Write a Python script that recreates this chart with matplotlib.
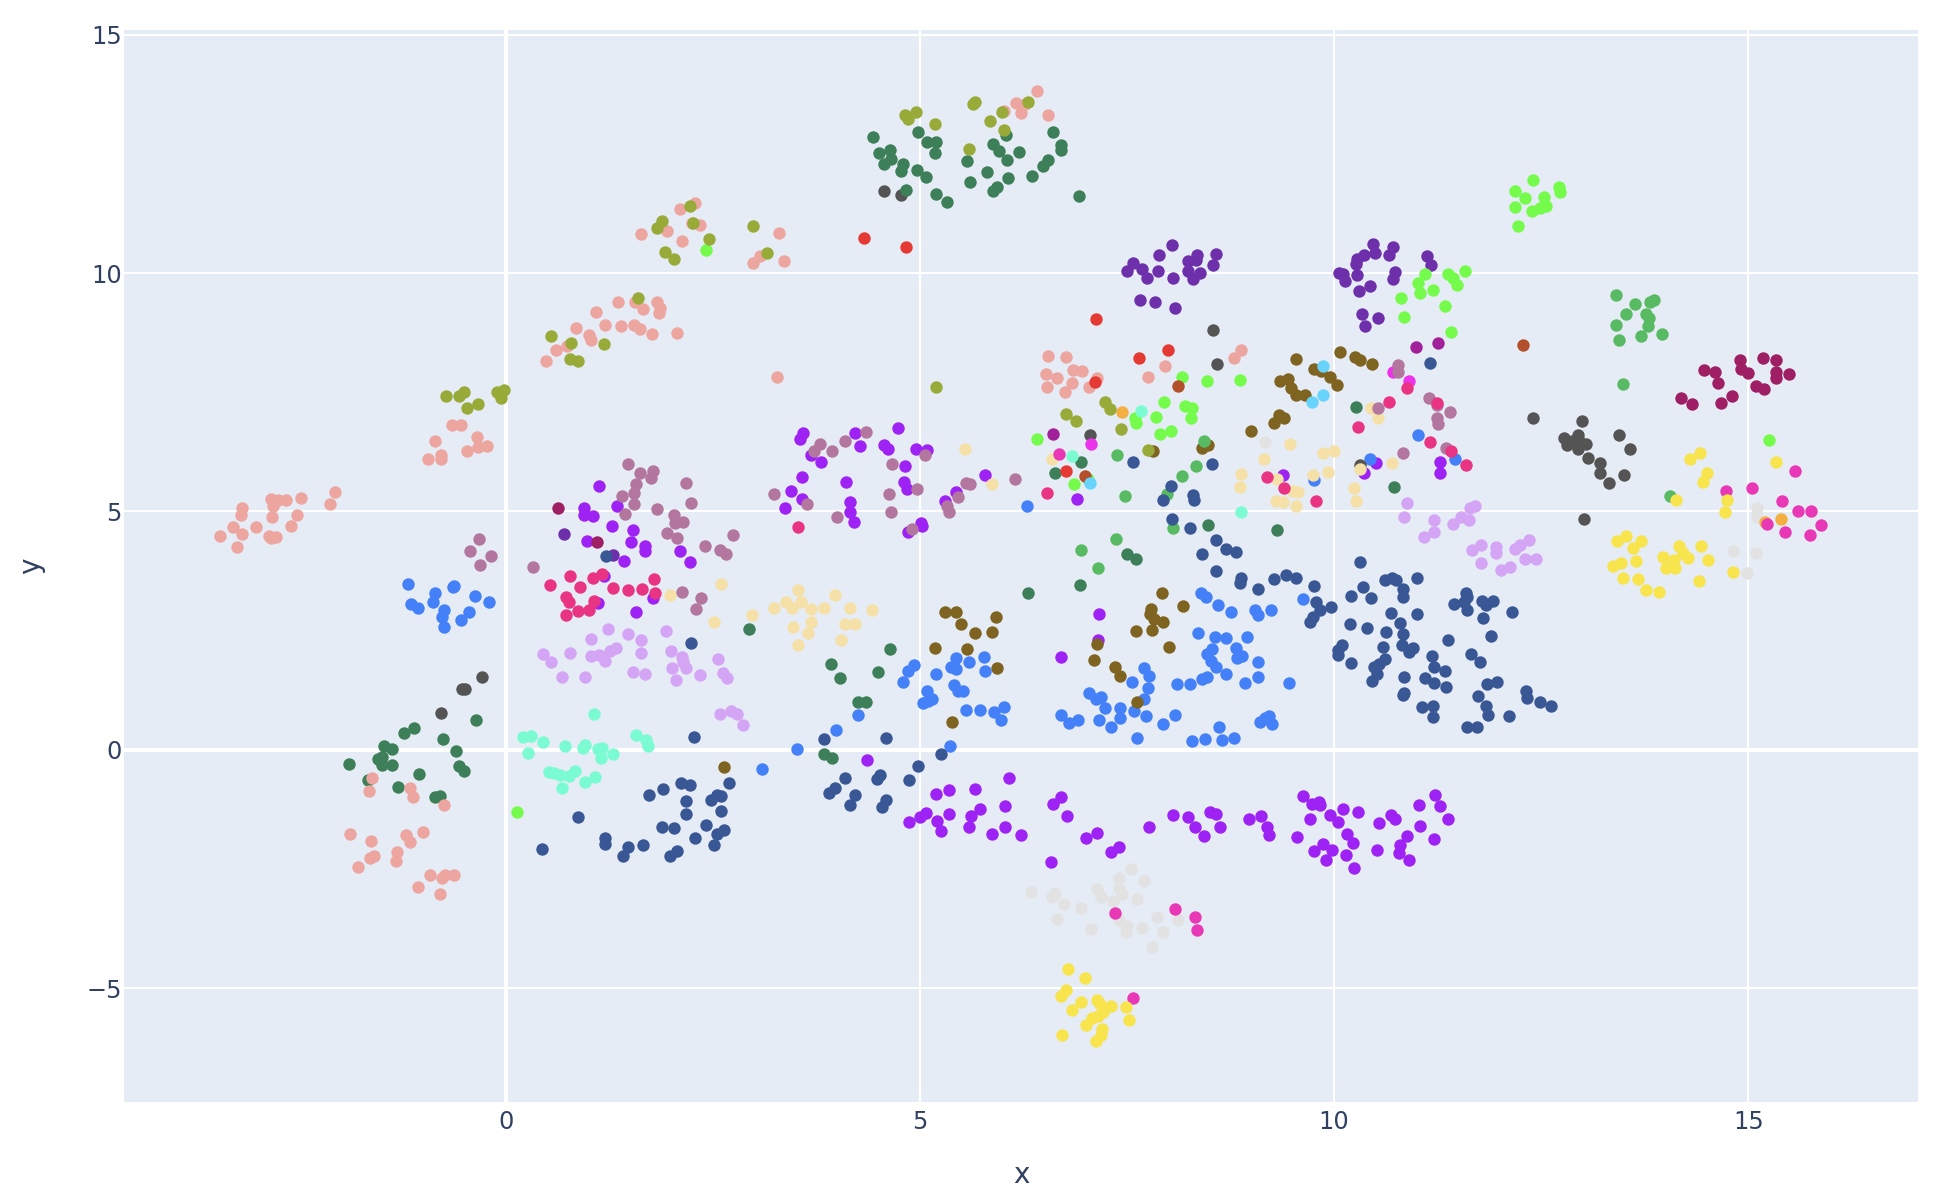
import matplotlib
matplotlib.use("Agg")
import matplotlib.pyplot as plt
import numpy as np

# puntos (x, y), un grupo por color
purple = [(1.13,5.53),(1.34,5.11),(0.94,5.07),(0.94,4.93),(1.05,4.90),(1.28,4.70),(1.54,4.60),(0.98,4.38),(1.51,4.36),(1.68,4.27),(1.68,4.18),(2.10,4.18),(1.43,3.97),(2.22,3.93),(1.18,3.64),(1.11,3.07),(1.78,3.18),(1.57,2.89),
    (3.59,6.65),(3.55,6.51),(4.21,6.65),(4.74,6.76),(4.28,6.37),(4.56,6.40),(4.61,6.32),(4.95,6.32),(5.08,6.29),(3.68,6.18),(3.80,6.04),(4.82,5.95),(3.57,5.72),(4.11,5.62),(4.81,5.62),(4.84,5.48),(3.44,5.42),(3.58,5.27),(3.37,5.07),(4.16,5.19),(4.16,4.98),(4.20,4.78),(5.01,4.76),(5.02,4.70),(4.85,4.56),(5.79,5.77),(5.43,5.41),(5.30,5.22),(6.90,5.27),(9.38,5.76),(7.16,2.84),(7.15,2.30),(6.70,1.95),
    (10.51,6.02),(10.36,5.81),(11.28,6.03),(11.28,5.81),
    (4.36,-0.22),(6.07,-0.59),(5.35,-0.84),(5.66,-0.82),(5.19,-0.93),(6.70,-0.99),(6.61,-1.14),(6.77,-1.40),(6.03,-1.19),(5.72,-1.24),(5.62,-1.38),(5.35,-1.35),(5.07,-1.33),(5.00,-1.41),(4.87,-1.52),(5.21,-1.49),(5.25,-1.70),(5.59,-1.63),(6.03,-1.63),(5.87,-1.76),(6.22,-1.78),(7.14,-1.74),(7.01,-1.85),(7.40,-2.05),(7.31,-2.14),(6.58,-2.36),(7.76,-1.62),(8.06,-1.36),(8.24,-1.41),(8.32,-1.62),(8.43,-1.80),(8.50,-1.31),(8.58,-1.34),(8.62,-1.63),(8.97,-1.45),(9.12,-1.39),(9.19,-1.63),(9.21,-1.79),(9.62,-0.97),(9.73,-1.13),(9.82,-1.09),(9.83,-1.15),(9.71,-1.45),(9.95,-1.37),(10.05,-1.52),(10.11,-1.24),(10.29,-1.30),(10.15,-1.77),(10.23,-1.95),(9.55,-1.84),(9.87,-1.97),(9.98,-2.10),(9.76,-2.13),(10.14,-2.20),(9.90,-2.32),(10.24,-2.48),
    (10.54,-1.54),(10.69,-1.37),(10.73,-1.45),(11.03,-1.15),(11.22,-0.94),(11.28,-1.17),(11.38,-1.45),(11.04,-1.60),(10.88,-1.80),(10.80,-1.99),(10.78,-2.17),(10.90,-2.31),(10.52,-2.11),(11.21,-1.88)]
blue = [(-1.18,3.48),(-0.64,3.42),(-0.62,3.44),(-0.86,3.29),(-0.37,3.23),(-1.15,3.06),(-1.06,2.97),(-0.88,3.10),(-0.75,2.94),(-0.20,3.09),(-0.45,2.88),(-0.77,2.78),(-0.54,2.73),(-0.75,2.57),
    (3.09,-0.41),(3.51,0.01),(3.99,0.41),(4.25,0.72),(4.79,1.43),(4.86,1.66),(4.93,1.78),(5.19,1.59),(5.44,1.92),(5.38,1.73),(5.44,1.69),(5.59,1.85),(5.77,1.95),(5.78,1.66),(5.08,1.24),(5.04,0.98),(5.10,1.03),(5.15,1.07),(5.41,1.35),(5.46,1.24),(5.52,1.24),(5.56,0.84),(5.73,0.83),(5.89,0.79),(6.01,0.89),(5.98,0.62),(5.36,0.08),
    (6.70,0.72),(6.80,0.57),(6.91,0.63),(7.04,1.20),(7.12,1.06),(7.19,1.11),(7.24,0.87),(7.42,0.87),(7.16,0.62),(7.41,0.66),(7.31,0.48),(7.58,0.81),(7.73,0.71),(7.62,0.24),(7.56,1.43),(7.75,1.30),(7.70,1.06),(7.70,1.71),(7.76,1.55),(8.10,1.38),(8.26,1.38),(8.41,1.48),(8.47,1.52),(8.70,1.59),(8.93,1.41),(9.08,1.53),(8.08,0.73),(7.94,0.55),(8.61,0.48),(8.28,0.18),(8.44,0.22),(8.65,0.21),(8.79,0.25),(9.10,0.58),(9.16,0.66),(9.21,0.71),(9.25,0.54),(9.45,1.41),
    (8.46,2.01),(8.51,1.87),(8.58,1.74),(8.83,1.93),(8.89,1.97),(9.08,1.85),
    (8.39,3.29),(8.45,3.21),(8.60,3.03),(8.76,2.90),(9.04,2.93),(9.08,2.82),(9.24,2.94),(9.62,3.16),(8.36,2.44),(8.56,2.36),(8.70,2.34),(8.95,2.37),(8.81,2.14),(8.53,2.11),
    (6.29,5.11),(9.76,5.66),(10.43,6.10),(11.01,6.60),(11.46,6.10)]
brown = [(9.54,8.19),(10.07,8.35),(10.25,8.24),(10.31,8.17),(10.46,8.09),(9.76,7.98),(9.84,7.95),(9.95,7.81),(10.03,7.65),(9.35,7.73),(9.44,7.77),(9.48,7.58),(9.54,7.44),(9.65,7.45),(9.33,7.02),(9.40,6.95),(9.28,6.86),(9.00,6.68),(7.81,6.27),(8.41,6.34),(8.48,6.39),(7.92,3.29),(7.79,2.96),(7.78,2.84),(7.83,2.74),(7.94,2.69),(8.18,3.01),(7.61,2.49),(7.80,2.51),(8.01,2.16),(7.14,2.21),(7.10,1.88),(7.36,1.74),(7.42,1.55),(7.62,1.01),(5.30,2.90),(5.44,2.88),(5.49,2.63),(5.92,2.79),(5.67,2.45),(5.87,2.46),(5.18,2.14),(5.57,2.11),(5.93,1.71),(5.39,0.58),(2.64,-0.37)]
dark_purple = [(8.04,10.58),(7.89,10.37),(7.57,10.22),(7.68,10.09),(7.50,10.05),(7.88,10.04),(7.74,9.89),(8.06,9.89),(8.24,10.26),(8.34,10.37),(8.33,10.27),(8.57,10.40),(8.54,10.16),(8.24,10.05),(8.38,10.01),(8.30,9.87),(7.66,9.44),(7.84,9.40),(8.08,9.26),
    (10.47,10.60),(10.71,10.54),(10.66,10.39),(10.50,10.43),(10.36,10.39),(10.28,10.29),(10.26,10.20),(10.06,10.01),(10.11,9.99),(10.28,9.97),(10.13,9.83),(10.73,10.02),(10.71,9.87),(10.43,9.72),(10.30,9.62),(10.34,9.15),(10.53,9.06),(10.37,8.89),(11.12,10.36),(11.17,10.16),(0.70,4.53),(1.30,4.09)]
gray = [(-0.29,1.52),(-0.53,1.28),(-0.49,1.27),(-0.78,0.78),(4.56,11.72),(4.77,11.63),(7.05,6.60),(8.54,8.80),(8.59,8.09),(10.31,5.97),(12.40,6.95),(12.99,6.90),(13.44,6.60),(13.57,6.32),(12.78,6.55),(12.94,6.61),(12.81,6.40),(12.87,6.47),(12.94,6.31),(13.04,6.41),(12.97,6.45),(13.06,6.12),(13.21,6.02),(13.21,5.80),(13.50,5.77),(13.32,5.59),(13.02,4.85)]
dark_green = [(4.43,12.85),(4.98,12.95),(5.09,12.76),(5.19,12.74),(5.18,12.53),(4.64,12.58),(4.51,12.53),(4.65,12.39),(4.56,12.29),(4.79,12.28),(4.77,12.14),(4.96,12.17),(5.07,12.02),(4.83,11.75),(5.19,11.66),(5.33,11.50),(5.57,12.35),(5.81,12.12),(5.60,11.91),(5.88,12.70),(5.95,12.57),(6.04,12.89),(6.05,12.37),(6.19,12.54),(6.06,12.00),(6.35,12.03),(6.48,12.25),(6.55,12.37),(6.61,12.95),(6.70,12.68),(6.70,12.59),(5.93,11.81),(5.88,11.72),(6.92,11.62),
    (-0.36,0.62),(-1.11,0.45),(-1.23,0.35),(-0.76,0.22),(-1.47,0.07),(-1.38,0.02),(-0.60,-0.02),(-1.50,-0.16),(-1.54,-0.19),(-1.49,-0.33),(-1.37,-0.31),(-1.89,-0.30),(-0.57,-0.34),(-0.51,-0.44),(-1.05,-0.50),(-1.66,-0.64),(-1.30,-0.79),(-0.86,-1.00),(-0.79,-0.98),
    (2.94,2.53),(3.92,1.80),(4.03,1.51),(4.49,1.63),(4.64,2.12),(4.25,1.00),(4.35,1.01),(3.84,-0.09),(3.94,-0.17),(6.63,5.80),(6.94,6.04),(6.30,3.28),(6.93,3.46),(7.50,4.10),(7.61,4.01),(8.48,4.71),(9.31,4.61),(10.26,7.19),(10.72,5.51)]
lime = [(0.14,-1.31),(2.42,10.49),(12.40,11.95),(12.18,11.72),(12.31,11.57),(12.53,11.59),(12.71,11.81),(12.73,11.70),(12.19,11.38),(12.39,11.30),(12.49,11.36),(12.56,11.40),(12.22,10.98),
    (11.10,9.99),(11.38,9.99),(11.43,9.90),(11.48,9.75),(11.58,10.05),(11.01,9.80),(11.04,9.59),(11.19,9.65),(10.81,9.47),(11.34,9.30),(10.84,9.08),(11.41,8.77),(15.25,6.50),
    (8.16,7.82),(8.47,7.73),(8.86,7.76),(7.95,7.30),(8.20,7.21),(8.28,7.18),(8.27,6.96),(7.85,6.99),(7.60,6.97),(7.61,6.85),(7.90,6.62),(8.03,6.68),(6.41,6.51),(7.03,5.69),(6.86,5.57)]
cream = [(3.53,3.35),(3.38,3.09),(3.56,3.10),(3.24,2.97),(3.46,2.97),(3.69,2.95),(3.84,2.97),(3.97,3.24),(4.15,2.97),(4.42,2.93),(2.97,2.82),(3.68,2.67),(3.47,2.58),(3.65,2.45),(4.09,2.64),(4.22,2.63),(4.05,2.30),(3.53,2.20),(1.98,3.25),(2.60,3.47),(2.51,2.68),
    (5.54,6.30),(5.87,5.57),(6.60,6.10),(8.88,5.79),(8.86,5.52),(9.15,6.10),(9.47,6.41),(9.30,5.22),(9.38,5.19),(9.54,5.12),(9.31,5.67),(9.51,5.43),(9.57,5.41),(9.87,6.22),(10.00,6.27),(9.93,5.83),(9.74,5.77),(10.24,5.50),(10.26,5.21),(10.45,7.17),(10.53,6.97),(10.70,6.01),(10.31,5.88)]
light_gray = [(6.34,-2.98),(6.59,-3.08),(6.63,-3.00),(6.74,-3.24),(6.66,-3.55),(6.94,-3.33),(7.14,-2.93),(7.18,-3.08),(7.40,-2.69),(7.40,-2.89),(7.44,-3.03),(7.33,-3.18),(7.55,-2.51),(7.71,-2.75),(7.62,-3.13),(7.40,-3.57),(7.07,-3.76),(7.50,-3.69),(7.49,-3.83),(7.68,-3.74),(7.86,-3.50),(8.12,-3.57),(7.94,-3.83),(7.80,-4.13),(9.16,6.46),(15.11,5.08),(15.11,4.89),(14.82,4.17),(15.09,4.13),(14.99,3.70)]
green = [(7.38,6.19),(8.33,5.96),(8.16,5.75),(7.47,5.33),(7.98,5.36),(8.43,6.47),(8.06,4.66),(7.37,4.43),(6.95,4.20),(7.15,3.81),(13.40,9.55),(13.63,9.36),(13.82,9.39),(13.86,9.44),(13.53,9.15),(13.76,9.15),(13.80,9.05),(13.79,8.90),(13.40,8.91),(13.44,8.60),(13.70,8.68),(13.96,8.73),(13.49,7.67),(14.06,5.32)]
rust = [(12.28,8.50),(8.12,7.64),(6.99,5.75)]
lilac = [(0.45,2.00),(0.55,1.84),(0.68,1.52),(0.78,2.03),(0.95,1.52),(1.03,2.32),(1.23,2.53),(1.03,1.96),(1.13,1.98),(1.20,1.86),(1.26,2.07),(1.33,2.14),(1.48,2.42),(1.63,2.30),(1.63,2.03),(1.54,1.63),(1.68,1.59),(1.93,2.49),(1.99,2.07),(2.13,1.94),(2.14,1.84),(2.01,1.72),(2.17,1.71),(2.06,1.47),(2.35,1.56),(2.56,1.90),(2.62,1.61),(2.67,1.50),(2.59,0.75),(2.72,0.81),(2.79,0.74),(2.86,0.52),
    (10.88,5.17),(10.84,4.89),(11.21,4.82),(11.21,4.57),(11.08,4.47),(11.43,4.73),(11.53,4.89),(11.63,4.82),(11.64,5.08),(11.70,5.11),(11.66,4.19),(11.77,4.30),(11.96,4.26),(11.96,4.12),(11.77,3.91),(12.02,3.77),(12.12,3.84),(12.18,4.22),(12.25,4.30),(12.35,4.41),(12.30,4.01),(12.44,4.01)]
magenta = [(7.07,6.41),(10.71,7.92),(10.91,7.74)]
navy = [(0.44,-2.08),(0.87,-1.41),(1.20,-1.85),(1.20,-1.97),(1.48,-2.05),(1.41,-2.22),(1.66,-1.99),(1.73,-0.94),(1.90,-0.83),(2.12,-0.69),(2.22,-0.74),(2.17,-1.08),(2.18,-1.34),(1.89,-1.63),(2.03,-1.65),(1.98,-2.22),(2.07,-2.13),(2.29,-1.85),(2.42,-1.58),(2.55,-1.76),(2.63,-1.68),(2.51,-1.99),(2.60,-1.29),(2.48,-1.05),(2.55,-0.94),(2.60,-0.97),(2.70,-0.69),(2.27,0.27),(2.23,2.23),(1.21,4.06),
    (3.84,0.22),(4.59,0.25),(5.26,-0.09),(4.98,-0.35),(4.87,-0.64),(4.10,-0.59),(4.52,-0.53),(4.48,-0.61),(3.98,-0.80),(3.90,-0.90),(4.21,-0.95),(4.15,-1.15),(4.59,-1.06),(4.54,-1.20),
    (7.57,6.04),(8.53,5.99),(8.03,5.53),(7.94,5.25),(8.30,5.35),(8.31,5.25),(8.04,4.85),(8.26,4.66),(8.57,4.40),(8.69,4.22),(8.82,4.15),(8.41,4.10),(8.57,3.75),(8.88,3.61),(8.87,3.49),(9.08,3.37),(9.28,3.59),(9.42,3.66),(9.54,3.61),(9.76,3.43),(9.78,3.10),(9.83,2.93),(9.96,3.00),(9.75,2.79),(9.71,2.67),
    (11.16,8.12),(10.31,3.94),(10.61,3.56),(10.70,3.61),(10.75,3.57),(11.00,3.61),(10.35,3.41),(10.21,3.22),(10.44,3.19),(10.83,3.37),(10.83,3.21),(10.69,2.86),(11.00,2.84),(10.79,2.65),(10.19,2.63),(10.40,2.56),(10.63,2.47),(10.83,2.42),(10.59,2.16),(10.82,2.19),(10.95,2.14),(10.91,2.06),(11.38,2.30),(11.59,3.28),(11.61,3.21),(11.45,3.05),(11.57,3.09),(11.61,2.93),(11.79,3.12),(11.83,3.03),(11.92,3.12),(11.80,2.77),(12.15,2.89),(11.90,2.39),(10.10,2.19),(10.05,2.09),
    (10.05,1.99),(10.20,1.83),(10.62,1.90),(10.54,1.80),(10.48,1.73),(10.52,1.59),(10.46,1.44),(10.84,1.52),(10.84,1.19),(10.83,1.15),(11.10,1.51),(11.21,1.39),(11.35,1.31),(11.21,1.74),(11.34,1.66),(11.18,1.97),(11.06,0.90),(11.19,0.92),(11.20,0.69),(11.65,2.01),(11.76,1.84),(11.85,1.38),(11.97,1.42),(11.74,1.12),(11.84,0.91),(11.86,0.72),(12.11,0.71),(11.61,0.47),(11.72,0.48),(12.32,1.23),(12.33,1.08),(12.49,1.01),(12.62,0.91)]
orange = [(7.44,7.09),(15.39,4.85),(15.20,4.77)]
salmon = [(-3.45,4.48),(-3.24,4.26),(-3.30,4.68),(-3.18,4.52),(-3.20,4.92),(-3.18,5.08),(-3.02,4.67),(-2.86,4.48),(-2.83,4.45),(-2.77,4.46),(-2.82,4.88),(-2.81,5.11),(-2.83,5.27),(-2.75,5.24),(-2.66,5.25),(-2.59,4.69),(-2.52,4.92),(-2.47,5.29),(-2.12,5.16),(-2.06,5.40),
    (-0.65,6.82),(-0.54,6.82),(-0.86,6.47),(-0.35,6.56),(-0.47,6.27),(-0.33,6.35),(-0.23,6.37),(-0.94,6.11),(-0.78,6.18),(-0.78,6.09),
    (-1.62,-0.60),(-1.65,-0.87),(-1.16,-0.80),(-1.12,-1.00),(-0.75,-1.15),(-1.88,-1.77),(-1.63,-1.92),(-1.21,-1.79),(-1.16,-1.94),(-1.00,-1.72),(-1.31,-2.14),(-1.32,-2.34),(-1.64,-2.27),(-1.59,-2.23),(-1.78,-2.46),(-0.91,-2.63),(-0.77,-2.69),(-0.74,-2.62),(-0.63,-2.63),(-1.06,-2.87),(-0.80,-3.03),
    (2.29,11.48),(2.10,11.35),(1.95,10.89),(1.63,10.81),(2.13,10.68),(2.35,11.00),(2.25,11.05),(3.30,10.85),(3.07,10.36),(2.99,10.21),(3.36,10.25),
    (1.35,9.40),(1.56,9.39),(1.83,9.40),(1.86,9.27),(1.66,9.25),(1.85,9.16),(1.09,9.18),(1.20,8.92),(1.39,8.90),(1.55,8.92),(1.62,8.83),(1.77,8.72),(2.07,8.75),(0.85,8.85),(1.00,8.70),(1.03,8.60),(0.74,8.46),(0.60,8.39),(0.48,8.16),(3.28,7.81),
    (6.41,13.81),(6.16,13.56),(6.27,13.55),(6.01,13.41),(6.22,13.35),(6.55,13.32),
    (6.54,8.27),(6.76,8.23),(6.85,7.96),(6.96,7.94),(7.14,7.80),(6.52,7.89),(6.66,7.80),(6.84,7.69),(6.53,7.62),(6.75,7.51),(7.04,7.60),(7.96,8.05),(7.75,7.82),(8.88,8.38),(8.79,8.21)]
olive = [(2.22,11.41),(1.88,11.09),(1.82,10.95),(2.26,11.05),(2.45,10.72),(1.92,10.44),(2.03,10.29),(2.99,10.98),(3.15,10.43),(1.60,9.48),(0.55,8.68),(0.79,8.53),(1.19,8.51),(0.77,8.19),(0.87,8.16),
    (-0.72,7.43),(-0.51,7.51),(-0.56,7.43),(-0.11,7.50),(-0.02,7.54),(-0.06,7.37),(-0.34,7.26),(-0.47,7.17),
    (4.82,13.32),(4.86,13.23),(4.95,13.37),(5.18,13.12),(5.66,13.58),(5.64,13.55),(5.85,13.20),(5.99,13.37),(6.31,13.59),(6.02,13.01),(5.59,12.60),
    (5.19,7.60),(7.24,7.30),(7.30,7.15),(6.76,7.04),(6.89,6.90),(7.43,6.73),(7.75,6.28)]
red = [(4.32,10.73),(4.83,10.55),(7.13,9.03),(7.65,8.21),(7.99,8.38),(7.11,7.71),(6.76,5.84)]
aqua = [(1.07,0.76),(0.21,0.27),(0.30,0.28),(0.45,0.16),(0.71,0.07),(0.95,0.10),(0.93,0.03),(1.11,0.01),(1.16,0.03),(0.27,-0.07),(1.57,0.30),(1.69,0.20),(1.72,0.07),(1.29,-0.09),(1.15,-0.17),(0.52,-0.47),(0.58,-0.48),(0.65,-0.54),(0.76,-0.55),(0.83,-0.45),(1.08,-0.58),(0.95,-0.67),(0.68,-0.81),(7.67,7.10),(6.83,6.17),(8.88,4.99)]
cyan = [(9.87,8.05),(9.87,7.45),(9.73,7.29),(7.05,5.60)]
plum = [(6.61,6.62),(10.99,8.45),(11.25,8.54)]
mauve = [(-0.32,4.42),(-0.43,4.18),(-0.18,4.06),(-0.31,3.88),(0.33,3.84),(1.47,6.00),(1.62,5.80),(1.78,5.84),(1.75,5.70),(1.57,5.58),(1.55,5.38),(1.40,5.32),(1.55,5.15),(1.44,4.95),(1.83,5.06),(2.17,5.59),(2.24,5.17),(2.03,4.93),(2.04,4.76),(2.14,4.78),(1.94,4.54),(2.07,4.45),(2.41,4.27),(2.58,4.19),(2.66,4.11),(2.74,4.50),(2.13,3.30),(2.36,3.19),(2.30,2.95),
    (3.79,6.42),(3.72,6.26),(3.94,6.27),(4.09,6.48),(4.35,6.67),(5.06,6.19),(4.66,6.00),(4.96,5.46),(4.63,5.36),(3.24,5.36),(3.64,5.15),(4.00,4.89),(4.65,4.99),(4.91,4.63),(5.46,5.31),(5.33,5.11),(5.35,4.98),(5.55,5.59),(5.60,5.58),(6.15,5.68),(10.53,7.16),
    (10.77,8.08),(10.77,7.93),(11.15,7.39),(11.24,7.24),(11.40,7.09),(11.24,6.95),(11.25,6.83),(11.35,6.34),(10.83,6.23)]
hot_pink = [(6.68,6.20),(7.35,-3.43),(8.08,-3.35),(8.32,-3.50),(8.35,-3.78),(7.57,-5.20),(14.73,5.43),(15.05,5.50),(15.56,5.84),(15.41,5.22),(15.60,5.00),(15.76,5.01),(15.88,4.71),(15.75,4.50),(15.23,4.74),(15.44,4.57)]
crimson = [(0.63,5.07),(1.10,4.36),(14.47,7.96),(14.60,7.92),(14.90,8.18),(14.91,7.99),(15.00,7.90),(14.63,7.69),(15.18,8.22),(15.34,8.18),(15.34,7.92),(15.33,7.80),(15.49,7.88),(15.10,7.63),(15.19,7.56),(14.81,7.43),(14.67,7.28),(14.19,7.37),(14.32,7.25)]
yellow = [(6.79,-4.61),(6.99,-4.79),(6.76,-5.03),(6.70,-5.17),(6.94,-5.29),(7.14,-5.24),(7.17,-5.33),(7.31,-5.38),(7.49,-5.39),(6.83,-5.47),(7.21,-5.50),(7.15,-5.59),(7.08,-5.62),(7.52,-5.67),(7.00,-5.78),(7.20,-5.86),(7.18,-5.98),(6.72,-5.98),(7.13,-6.10),
    (14.42,6.22),(14.30,6.09),(14.50,5.80),(14.45,5.61),(15.33,6.03),(14.13,5.25),(14.74,5.25),(14.72,4.99),(13.52,4.49),(13.42,4.38),(13.70,4.38),(13.61,4.24),(13.37,3.86),(13.47,3.91),(13.65,3.97),(13.49,3.60),(13.67,3.59),(13.76,3.35),(13.92,3.31),(14.17,4.27),(14.21,4.12),(14.27,4.02),(14.43,4.27),(14.52,3.98),(13.97,4.04),(14.10,3.99),(14.01,3.82),(14.12,3.82),(14.40,3.53),(14.82,3.73)]
pink = [(0.53,3.45),(0.78,3.65),(0.89,3.42),(1.05,3.60),(1.16,3.69),(1.30,3.39),(1.47,3.36),(1.64,3.38),(1.79,3.59),(1.80,3.28),(0.73,3.20),(0.76,3.11),(1.07,3.13),(0.87,2.91),(1.01,2.93),(0.73,2.83),(3.53,4.68),(6.53,5.39),(9.19,5.73),(9.39,5.50),(9.78,5.22),(10.29,6.78),(10.66,7.30),(10.88,7.58),(11.24,7.27),(11.16,6.46),(11.41,6.27),(11.59,5.98)]

x_ticks = [0, 5, 10, 15]
y_ticks = [-5, 0, 5, 10, 15]

# mismo orden de dibujo que la paleta
grupos = [
    (purple, "#9D22F3"), (blue, "#4480F7"), (brown, "#7F6321"), (dark_purple, "#6E2FAB"),
    (gray, "#545454"), (dark_green, "#3D7F58"), (lime, "#75FB4C"), (cream, "#F5E1A7"),
    (light_gray, "#E2E2E2"), (green, "#58BA62"), (rust, "#B34F2A"), (lilac, "#D5A5F5"),
    (magenta, "#EA33EA"), (navy, "#3A5795"), (orange, "#F3AF42"), (salmon, "#EDA5A0"),
    (olive, "#98AA37"), (red, "#E53A34"), (aqua, "#7BFBD2"), (cyan, "#69D4FB"),
    (plum, "#A0219A"), (mauve, "#B3769F"), (hot_pink, "#E938B5"), (crimson, "#9E1F63"),
    (yellow, "#F8E44D"), (pink, "#E83482"),
]

plt.rcParams["font.family"] = ["DejaVu Sans"]
text_color = "#2F4060"

W, H = 1948, 1202
fig = plt.figure(figsize=(W / 100, H / 100), dpi=100, facecolor="white")
ax = fig.add_axes([124 / W, 1 - 1102 / H, (1918 - 124) / W, (1102 - 30) / H], facecolor="#E6ECF5")

for puntos, color in grupos:
    p = np.array(puntos)
    ax.scatter(p[:, 0], p[:, 1], s=80, color=color, linewidths=0, zorder=3)

ax.set_xlim(-4.61, 17.05)
ax.set_ylim(-7.39, 15.1)
ax.set_xticks(x_ticks)
ax.set_yticks(y_ticks)
ax.grid(True, color="white", linewidth=1.45, zorder=1)
ax.set_axisbelow(True)
ax.axhline(0, color="white", linewidth=2.9, zorder=2)
ax.axvline(0, color="white", linewidth=2.9, zorder=2)
for s in ax.spines.values():
    s.set_visible(False)
ax.tick_params(axis="x", length=0, labelsize=17.3, labelcolor=text_color, pad=5.5)
ax.tick_params(axis="y", length=0, labelsize=17.3, labelcolor=text_color, pad=1.5)
ax.set_xlabel("x", fontsize=20, color=text_color, va="baseline")
ax.set_ylabel("y", fontsize=20, color=text_color, va="center")
ax.xaxis.set_label_coords(0.5, -81 / 1072)
ax.yaxis.set_label_coords(-93 / 1794, 0.5)

fig.savefig("out.png", dpi=100)
